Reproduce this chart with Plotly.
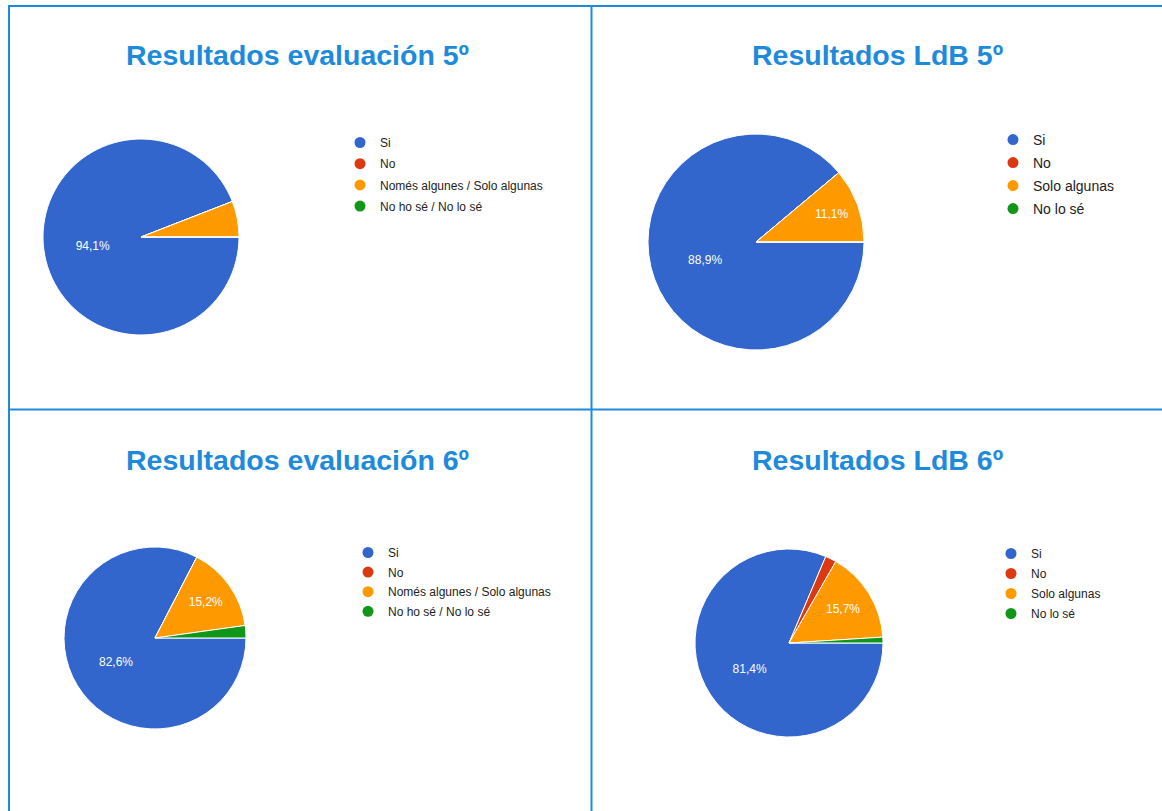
import plotly.graph_objects as go

W, H = 1162, 811

# chart data
titles = ["Resultados evaluación 5º", "Resultados LdB 5º",
          "Resultados evaluación 6º", "Resultados LdB 6º"]
labels_eval = ["Si", "No", "Només algunes / Solo algunas", "No ho sé / No lo sé"]
labels_ldb = ["Si", "No", "Solo algunas", "No lo sé"]
eval5 = [94.1, 0, 5.9, 0]
ldb5 = [88.9, 0, 11.1, 0]
eval6 = [82.6, 0, 15.2, 2.2]
ldb6 = [81.4, 1.9, 15.7, 1.0]
colors = ["#3366CC", "#DC3912", "#FF9900", "#109618"]

BLUE = "#1E8ADB"
FONT = "Arial, Liberation Sans, sans-serif"

# layout per panel (pixels): pie centre, diameter, legend text-left, first item centre, font, gap
panels = [
    dict(title=titles[0], labels=labels_eval, values=eval5, tx=297, ty=55,
         cx=141, cy=237, d=196, lx=380, ly=139, fs=12, gap=2.2),
    dict(title=titles[1], labels=labels_ldb, values=ldb5, tx=877, ty=55,
         cx=756, cy=242, d=216, lx=1033, ly=135, fs=14, gap=1.8),
    dict(title=titles[2], labels=labels_eval, values=eval6, tx=297, ty=460,
         cx=155, cy=638, d=182, lx=388, ly=549, fs=12, gap=0.6),
    dict(title=titles[3], labels=labels_ldb, values=ldb6, tx=877, ty=460,
         cx=789, cy=643, d=188, lx=1031, ly=550, fs=12, gap=1.0),
]

fig = go.Figure()
annotations = []
legends = {}

for i, p in enumerate(panels):
    r = p["d"] / 2
    fig.add_trace(go.Pie(
        labels=p["labels"],
        values=p["values"],
        sort=False,
        direction="clockwise",
        rotation=90,
        marker=dict(colors=colors, line=dict(color="white", width=1)),
        texttemplate=["%{percent:.1%}" if v >= 10 else "" for v in p["values"]],
        textposition="inside",
        insidetextorientation="horizontal",
        insidetextfont=dict(color="white", size=12, family=FONT),
        showlegend=False,
        domain=dict(x=[(p["cx"] - r) / W, (p["cx"] + r) / W],
                    y=[1 - (p["cy"] + r) / H, 1 - (p["cy"] - r) / H]),
    ))

    leg = "legend" if i == 0 else f"legend{i + 1}"
    for j, lab in enumerate(p["labels"]):
        fig.add_trace(go.Scatter(
            x=[None], y=[None], mode="markers", name=lab,
            marker=dict(color=colors[j], size=11, symbol="circle"),
            legend=leg, legendgroup=f"p{i}_{j}", showlegend=True,
            hoverinfo="skip",
        ))
    legends[leg] = dict(
        x=(p["lx"] - 40) / W, y=1 - (p["ly"] - 11) / H,
        xanchor="left", yanchor="top",
        bgcolor="rgba(0,0,0,0)", borderwidth=0,
        font=dict(family=FONT, size=p["fs"], color="#222222"),
        tracegroupgap=p["gap"], itemclick=False, itemdoubleclick=False,
    )

    annotations.append(dict(
        text=f"<b>{p['title']}</b>", x=p["tx"] / W, y=1 - p["ty"] / H,
        xref="paper", yref="paper", xanchor="center", yanchor="middle",
        showarrow=False, font=dict(family=FONT, size=28.5, color=BLUE),
    ))

# panel borders
line = dict(color=BLUE, width=2)
shapes = [
    dict(type="line", xref="paper", yref="paper", x0=8 / W, x1=1, y0=1 - 6 / H, y1=1 - 6 / H, line=line),
    dict(type="line", xref="paper", yref="paper", x0=9 / W, x1=9 / W, y0=0, y1=1 - 6 / H, line=line),
    dict(type="line", xref="paper", yref="paper", x0=591.5 / W, x1=591.5 / W, y0=0, y1=1 - 6 / H, line=line),
    dict(type="line", xref="paper", yref="paper", x0=8 / W, x1=1, y0=1 - 409.5 / H, y1=1 - 409.5 / H, line=line),
]

fig.update_layout(
    width=W, height=H,
    margin=dict(l=0, r=0, t=0, b=0),
    paper_bgcolor="white", plot_bgcolor="white",
    separators=",.",
    annotations=annotations,
    shapes=shapes,
    xaxis=dict(visible=False), yaxis=dict(visible=False),
    **legends,
)

# drop the browser's default 8px body margin so the figure sits at the page corner
fig.write_html("out.html", config={"displayModeBar": False},
               post_script="document.body.style.margin='0';")
